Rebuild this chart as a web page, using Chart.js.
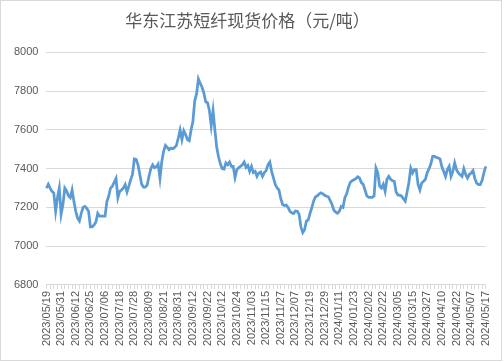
<!DOCTYPE html>
<html lang="zh-CN">
<head>
<meta charset="UTF-8">
<title>华东江苏短纤现货价格</title>
<script src="https://cdn.jsdelivr.net/npm/chart.js@4"></script>
<style>
  html, body { margin: 0; padding: 0; background: #fff; }
  .box {
    width: 502px;
    height: 361px;
    box-sizing: border-box;
    border: 1px solid #d9d9d9;
  }
  canvas { display: block; }
</style>
</head>
<body>
<div class="box"><canvas id="priceChart" width="500" height="359"></canvas></div>
<script>
  // x-axis labels, one every 8 trading days
  const tickLabels = [
    '2023/05/19', '2023/05/31', '2023/06/12', '2023/06/25', '2023/07/06', '2023/07/18',
    '2023/07/28', '2023/08/09', '2023/08/21', '2023/08/31', '2023/09/12', '2023/09/22',
    '2023/10/12', '2023/10/24', '2023/11/03', '2023/11/15', '2023/11/27', '2023/12/07',
    '2023/12/19', '2023/12/29', '2024/01/11', '2024/01/23', '2024/02/02', '2024/02/22',
    '2024/03/05', '2024/03/15', '2024/03/27', '2024/04/10', '2024/04/22', '2024/05/07',
    '2024/05/17'
  ];
  const labelEvery = 8;

  // daily spot price, yuan/ton
  const prices = [
    7300, 7320, 7300, 7283, 7275, 7180, 7250, 7300, 7165, 7215,
    7300, 7285, 7260, 7250, 7290, 7230, 7180, 7145, 7130, 7170,
    7200, 7205, 7195, 7180, 7100, 7100, 7110, 7125, 7170, 7155,
    7155, 7155, 7155, 7230, 7258, 7300, 7310, 7330, 7350, 7250,
    7283, 7290, 7300, 7318, 7280, 7310, 7343, 7370, 7450, 7448,
    7420, 7370, 7320, 7305, 7305, 7315, 7360, 7400, 7420, 7405,
    7410, 7424, 7350, 7437, 7490, 7520, 7510, 7498, 7506, 7503,
    7510, 7520, 7558, 7600, 7550, 7596, 7576, 7550, 7544, 7600,
    7645, 7750, 7786, 7863, 7840, 7820, 7790, 7745, 7740, 7700,
    7622, 7700, 7600, 7510, 7460, 7425, 7400, 7398, 7430, 7420,
    7434, 7412, 7412, 7355, 7395, 7405, 7412, 7420, 7434, 7407,
    7417, 7386, 7412, 7380, 7386, 7360, 7378, 7383, 7360, 7380,
    7390, 7420, 7434, 7386, 7352, 7318, 7300, 7290, 7245, 7215,
    7210, 7212, 7200, 7180, 7172, 7168, 7182, 7180, 7165, 7100,
    7070, 7085, 7130, 7135, 7170, 7200, 7235, 7255, 7260, 7270,
    7275, 7270, 7263, 7258, 7255, 7235, 7215, 7185, 7176, 7170,
    7180, 7205, 7200, 7250, 7270, 7305, 7330, 7338, 7343, 7348,
    7358, 7352, 7328, 7320, 7290, 7260, 7252, 7252, 7252, 7260,
    7403, 7378, 7310, 7300, 7320, 7283, 7345, 7360, 7345, 7338,
    7335, 7280, 7263, 7263, 7258, 7245, 7232, 7280, 7330, 7403,
    7378, 7395, 7395, 7318, 7290, 7326, 7335, 7345, 7380, 7400,
    7425, 7464, 7464, 7458, 7455, 7450, 7410, 7385, 7360, 7395,
    7412, 7360, 7386, 7430, 7395, 7378, 7368, 7360, 7400, 7370,
    7352, 7370, 7378, 7390, 7350, 7325, 7318, 7318, 7340, 7380,
    7412
  ];

  const yMin = 6800;
  const yMax = 8000;
  const yStep = 200;

  const textColor = '#595959';
  const gridColor = '#d9d9d9';

  const ctx = document.getElementById('priceChart').getContext('2d');

  new Chart(ctx, {
    type: 'line',
    data: {
      labels: prices.map((_, i) => i),
      datasets: [{
        data: prices,
        borderColor: '#5b9bd5',
        borderWidth: 2.75,
        pointRadius: 0,
        tension: 0,
        fill: false
      }]
    },
    options: {
      responsive: false,
      animation: false,
      layout: {
        padding: { top: 5, left: 5, right: 12, bottom: 12 }
      },
      plugins: {
        legend: { display: false },
        tooltip: { enabled: false },
        title: {
          display: true,
          text: '华东江苏短纤现货价格（元/吨）',
          color: textColor,
          font: { family: '"Noto Sans CJK SC"', size: 17, weight: 'normal' },
          padding: { top: 4, bottom: 22 }
        }
      },
      scales: {
        x: {
          offset: false,
          grid: {
            drawOnChartArea: false,
            tickLength: 4,
            color: (c) => c.index % 2 === 0 ? gridColor : 'rgba(0,0,0,0)'
          },
          border: { color: gridColor },
          ticks: {
            autoSkip: false,
            maxRotation: 90,
            minRotation: 90,
            padding: 2,
            color: textColor,
            font: { family: '"Liberation Sans"', size: 11 },
            callback: (v, i) => i % labelEvery === 0 ? tickLabels[i / labelEvery] : ''
          }
        },
        y: {
          min: yMin,
          max: yMax,
          grid: { color: gridColor, drawTicks: false },
          border: { display: false },
          ticks: {
            stepSize: yStep,
            padding: 8,
            color: textColor,
            font: { family: '"Liberation Sans"', size: 11 },
            callback: (v) => String(v)
          }
        }
      }
    }
  });
</script>
</body>
</html>
